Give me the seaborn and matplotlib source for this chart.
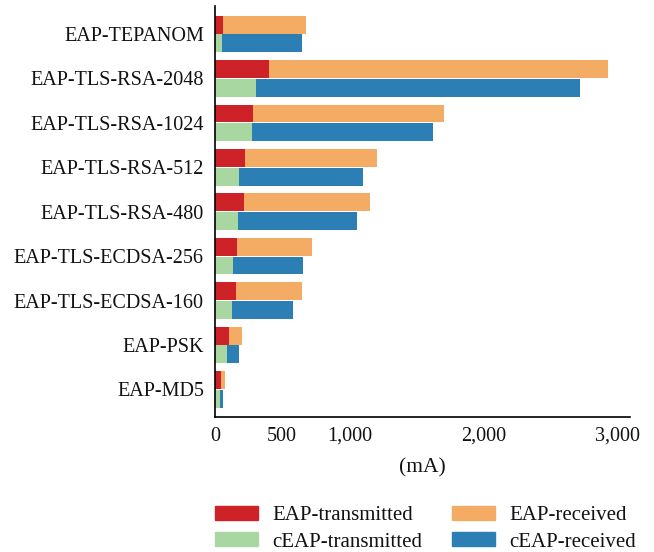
import matplotlib
matplotlib.use("Agg")
import matplotlib.pyplot as plt
from matplotlib.patches import Patch
import pandas as pd
import seaborn as sns

# Per-method current draw (mA), split into transmitted and received parts
methods = ["EAP-TEPANOM", "EAP-TLS-RSA-2048", "EAP-TLS-RSA-1024", "EAP-TLS-RSA-512",
           "EAP-TLS-RSA-480", "EAP-TLS-ECDSA-256", "EAP-TLS-ECDSA-160", "EAP-PSK", "EAP-MD5"]
eap_transmitted = [58, 401, 282, 225, 215, 163, 155, 106, 41]
eap_received = [616, 2526, 1426, 978, 941, 561, 490, 97, 35]
ceap_transmitted = [53, 302, 277, 180, 170, 133, 128, 93, 34]
ceap_received = [594, 2414, 1349, 919, 887, 519, 450, 87, 29]

x_ticks = [0, 500, 1000, 2000, 3000]
x_tick_labels = ["0", "500", "1,000", "2,000", "3,000"]
x_label = "(mA)"

rows = []
for i, m in enumerate(methods):
    rows.append({"method": m, "protocol": "EAP",
                 "transmitted": eap_transmitted[i],
                 "total": eap_transmitted[i] + eap_received[i]})
    rows.append({"method": m, "protocol": "cEAP",
                 "transmitted": ceap_transmitted[i],
                 "total": ceap_transmitted[i] + ceap_received[i]})
df = pd.DataFrame(rows)

c_red, c_orange, c_green, c_blue = "#cd2328", "#f4ab63", "#a9d7a1", "#2c7fb4"

sns.set_style("white")
plt.rcParams["font.family"] = ["Liberation Serif", "DejaVu Serif"]

fig = plt.figure(figsize=(6.54, 5.52), dpi=100)
ax = fig.add_axes([215 / 654, 1 - 417 / 552, 415 / 654, 411 / 552])

common = dict(data=df, y="method", hue="protocol", hue_order=["EAP", "cEAP"],
              order=methods, orient="h", width=0.84, gap=0.04,
              errorbar=None, legend=False, saturation=1, ax=ax, linewidth=0)
# full stack (received on top of transmitted), then the transmitted part over it
sns.barplot(x="total", palette={"EAP": c_orange, "cEAP": c_blue}, **common)
sns.barplot(x="transmitted", palette={"EAP": c_red, "cEAP": c_green}, **common)

ax.set_xlim(0, 3090)
ax.set_ylim(8.62, -0.63)
ax.set_xticks(x_ticks)
ax.set_xticklabels(x_tick_labels)
ax.set_xlabel(x_label, fontsize=15.5, labelpad=9, color="#111111")
ax.set_ylabel("")
ax.tick_params(axis="both", direction="in", length=8, width=1, color="black",
               labelsize=14.5, labelcolor="#111111")
ax.tick_params(axis="x", pad=7)
ax.tick_params(axis="y", pad=8)
for s in ["top", "right"]:
    ax.spines[s].set_visible(False)
for s in ["left", "bottom"]:
    ax.spines[s].set_color("black")
    ax.spines[s].set_linewidth(1.2)

handles = [Patch(color=c_red), Patch(color=c_green), Patch(color=c_orange), Patch(color=c_blue)]
labels = ["EAP-transmitted", "cEAP-transmitted", "EAP-received", "cEAP-received"]
leg = fig.legend(handles, labels, ncol=2, loc="upper left",
                 bbox_to_anchor=(215 / 654, 1 - 506 / 552), frameon=False,
                 fontsize=15, borderpad=0, borderaxespad=0, handlelength=2.07,
                 handleheight=0.67, handletextpad=0.7, columnspacing=1.4,
                 labelspacing=0.33)
for t in leg.get_texts():
    t.set_color("#111111")

fig.savefig("out.png", dpi=100)
